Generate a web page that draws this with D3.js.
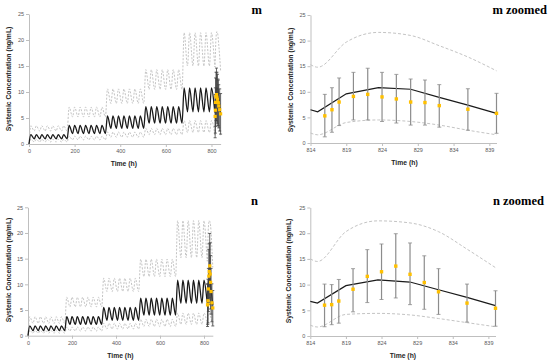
<!DOCTYPE html>
<html>
<head>
<meta charset="utf-8">
<script src="https://cdn.jsdelivr.net/npm/d3@7"></script>
<style>
  body { margin: 0; background: #fff; }
  svg { display: block; }
  text { font-family: "Liberation Sans", Arial, sans-serif; }
</style>
</head>
<body>
<div id="chart"></div>
<script>
// weekly dosing blocks (start hour of each week)
var weekStart = [0, 168, 336, 504, 672];

// panel m: daily peak / trough per week (median, upper and lower percentile)
var mMedPeak = [1.8, 3.6, 5.4, 7.2, 10.8];
var mMedTrough = [1.0, 2.0, 3.0, 4.0, 6.2];
var mHiPeak = [3.5, 7.1, 10.6, 14.3, 21.4];
var mHiTrough = [2.5, 5.2, 7.8, 10.5, 15.0];
var mLoPeak = [0.9, 1.5, 2.3, 3.0, 4.5];
var mLoTrough = [0.4, 0.8, 1.3, 1.8, 2.2];

// panel n
var nMedPeak = [1.9, 3.7, 5.5, 7.3, 10.8];
var nMedTrough = [1.0, 2.2, 3.0, 4.0, 6.3];
var nHiPeak = [3.7, 7.5, 11.2, 14.9, 22.4];
var nHiTrough = [2.4, 5.6, 8.6, 11.5, 15.2];
var nLoPeak = [1.0, 1.7, 2.4, 3.2, 4.4];
var nLoTrough = [0.5, 0.9, 1.3, 1.8, 2.2];

// last dosing interval (zoomed), simulated
var zoomTime = [814, 815, 819, 823.5, 828, 832, 836, 840];
var mZoomMed = [6.5, 6.1, 9.6, 10.8, 10.5, 8.9, 7.4, 5.8];
var mZoomHi = [15.3, 14.8, 19.7, 21.6, 21.0, 19.0, 16.8, 14.1];
var mZoomLo = [1.95, 1.6, 4.0, 4.5, 4.2, 3.5, 2.5, 1.6];
var nZoomMed = [6.75, 6.4, 9.8, 10.9, 10.5, 9.0, 7.5, 5.9];
var nZoomHi = [15.0, 14.5, 20.3, 22.4, 22.0, 20.3, 16.9, 13.3];
var nZoomLo = [2.1, 1.75, 4.2, 4.4, 4.1, 3.4, 2.6, 1.8];

// observed mean +/- SD
var obsTime = [816, 817, 818, 820, 822, 824, 826, 828, 830, 832, 836, 840];
var mObs = [5.3, 6.5, 8.0, 9.1, 9.5, 9.0, 8.6, 8.0, 7.9, 7.3, 6.6, 5.8];
var mObsHi = [9.5, 10.8, 12.7, 13.8, 14.6, 13.8, 13.4, 12.5, 12.3, 11.4, 10.6, 9.7];
var mObsLo = [1.2, 2.1, 3.4, 4.5, 4.5, 4.2, 3.9, 3.5, 3.5, 3.1, 2.5, 1.9];
var nObs = [6.0, 6.1, 6.8, 9.1, 11.6, 12.5, 13.6, 12.0, 10.4, 8.6, 6.4, 5.4];
var nObsHi = [10.1, 10.0, 11.0, 13.1, 16.8, 17.9, 19.9, 18.1, 15.6, 13.1, 10.1, 8.8];
var nObsLo = [1.8, 2.2, 2.5, 4.7, 6.5, 7.1, 7.4, 6.1, 5.2, 4.2, 2.7, 1.9];

var yTicks = [0, 5, 10, 15, 20, 25];
var fullTicks = [0, 200, 400, 600, 800];
var zoomTicks = [814, 819, 824, 829, 834, 839];

var svg = d3.select("#chart").append("svg")
    .attr("width", 550)
    .attr("height", 361);

// build the full course: dose every 24 h, trough just before dose, peak ~8 h after
function fullCourse(peak, trough, zT, zV) {
    var pts = [[0, 0]];
    for (var d = 0; d < 34; d++) {
        if (d > 0) {
            var wt = d3.bisectRight(weekStart, 24 * d - 1) - 1;
            pts.push([24 * d - 1, trough[wt]]);
        }
        var wp = d3.bisectRight(weekStart, 24 * d) - 1;
        pts.push([24 * d + 8, peak[wp]]);
    }
    zT.forEach(function(t, i) { pts.push([t, zV[i]]); });
    return pts;
}

function zipped(t, v) {
    return t.map(function(d, i) { return [d, v[i]]; });
}

function drawPanel(p) {
    var x = d3.scaleLinear().domain(p.xDomain).range(p.xRange);
    var y = d3.scaleLinear().domain([0, 25]).range(p.yRange);
    var g = svg.append("g");

    // axes
    var xAxis = g.append("g")
        .attr("transform", "translate(0," + p.yRange[0] + ")")
        .call(d3.axisBottom(x).tickValues(p.xTicks).tickSize(3).tickSizeOuter(0));
    var yAxis = g.append("g")
        .attr("transform", "translate(" + p.xRange[0] + ",0)")
        .call(d3.axisLeft(y).tickValues(yTicks).tickSize(3).tickSizeOuter(0));
    [xAxis, yAxis].forEach(function(a) {
        a.select(".domain").attr("stroke", "#bfbfbf");
        a.selectAll(".tick line").attr("stroke", "#bfbfbf");
        a.selectAll(".tick text")
            .attr("fill", "#595959")
            .style("font-size", "5.5px")
            .style("font-family", "Liberation Sans, Arial, sans-serif");
    });
    xAxis.selectAll(".tick text").attr("dy", "0.9em").attr("y", 4);
    yAxis.selectAll(".tick text").attr("x", -5);

    var smooth = d3.line()
        .x(function(d) { return x(d[0]); })
        .y(function(d) { return y(d[1]); })
        .curve(d3.curveMonotoneX);
    var straight = d3.line()
        .x(function(d) { return x(d[0]); })
        .y(function(d) { return y(d[1]); });

    // percentile bands (dashed)
    [p.hi, p.lo].forEach(function(s) {
        g.append("path")
            .attr("d", smooth(s))
            .attr("fill", "none")
            .attr("stroke", "#c4c4c4")
            .attr("stroke-width", 1)
            .attr("stroke-dasharray", p.zoom ? "3,2" : "2,1.5");
    });

    // median
    g.append("path")
        .attr("d", p.zoom ? straight(p.med) : smooth(p.med))
        .attr("fill", "none")
        .attr("stroke", "#1a1a1a")
        .attr("stroke-width", p.zoom ? 1.2 : 1.3);

    // observed error bars
    var barColor = p.zoom ? "#8c8c8c" : "#444";
    var cap = p.zoom ? 2 : 1.5;
    var eb = g.selectAll(".eb").data(obsTime).enter().append("g");
    eb.append("line")
        .attr("x1", function(d) { return x(d); })
        .attr("x2", function(d) { return x(d); })
        .attr("y1", function(d, i) { return y(p.obsHi[i]); })
        .attr("y2", function(d, i) { return y(p.obsLo[i]); })
        .attr("stroke", barColor).attr("stroke-width", p.zoom ? 1.2 : 0.8);
    [p.obsHi, p.obsLo].forEach(function(arr) {
        eb.append("line")
            .attr("x1", function(d) { return x(d) - cap; })
            .attr("x2", function(d) { return x(d) + cap; })
            .attr("y1", function(d, i) { return y(arr[i]); })
            .attr("y2", function(d, i) { return y(arr[i]); })
            .attr("stroke", barColor).attr("stroke-width", 0.8);
    });

    // observed means
    var sz = p.zoom ? 3.4 : 3.2;
    g.selectAll(".pt").data(obsTime).enter().append("rect")
        .attr("x", function(d) { return x(d) - sz / 2; })
        .attr("y", function(d, i) { return y(p.obs[i]) - sz / 2; })
        .attr("width", sz).attr("height", sz)
        .attr("fill", "#ffc000");

    // axis titles
    g.append("text")
        .attr("x", d3.mean(p.xRange) + p.tOff)
        .attr("y", p.yRange[0] + 22)
        .attr("text-anchor", "middle")
        .style("font-size", "6.8px").style("font-weight", "bold")
        .attr("fill", "#262626")
        .text("Time (h)");
    g.append("text")
        .attr("transform", "translate(" + p.yTitleX + "," + p.yTitleY + ") rotate(-90)")
        .attr("text-anchor", "middle")
        .style("font-size", "6.8px").style("font-weight", "bold")
        .attr("fill", "#262626")
        .text("Systemic Concentration (ng/mL)");

    // panel label
    g.append("text")
        .attr("x", p.labelX).attr("y", p.labelY)
        .attr("text-anchor", "end")
        .style("font-family", "Liberation Serif, DejaVu Serif, serif")
        .style("font-size", "12.5px").style("font-weight", "bold")
        .attr("fill", "#000")
        .text(p.label);
}

drawPanel({
    xDomain: [0, 840], xRange: [29, 220.6], yRange: [144, 14], xTicks: fullTicks, zoom: false,
    med: fullCourse(mMedPeak, mMedTrough, zoomTime, mZoomMed),
    hi: fullCourse(mHiPeak, mHiTrough, zoomTime, mZoomHi),
    lo: fullCourse(mLoPeak, mLoTrough, zoomTime, mZoomLo),
    obs: mObs, obsHi: mObsHi, obsLo: mObsLo,
    tOff: -1, yTitleX: 11, yTitleY: 79, label: "m", labelX: 262, labelY: 14
});
drawPanel({
    xDomain: [814, 840], xRange: [310.5, 496.5], yRange: [143, 15], xTicks: zoomTicks, zoom: true,
    med: zipped(zoomTime, mZoomMed), hi: zipped(zoomTime, mZoomHi), lo: zipped(zoomTime, mZoomLo),
    obs: mObs, obsHi: mObsHi, obsLo: mObsLo,
    tOff: 1, yTitleX: 293, yTitleY: 80, label: "m zoomed", labelX: 547, labelY: 14
});
drawPanel({
    xDomain: [0, 840], xRange: [28, 212.8], yRange: [335.7, 207.3], xTicks: fullTicks, zoom: false,
    med: fullCourse(nMedPeak, nMedTrough, zoomTime, nZoomMed),
    hi: fullCourse(nHiPeak, nHiTrough, zoomTime, nZoomHi),
    lo: fullCourse(nLoPeak, nLoTrough, zoomTime, nZoomLo),
    obs: nObs, obsHi: nObsHi, obsLo: nObsLo,
    tOff: 0, yTitleX: 11, yTitleY: 270, label: "n", labelX: 258, labelY: 205
});
drawPanel({
    xDomain: [814, 840], xRange: [310.3, 495.5], yRange: [336, 207.5], xTicks: zoomTicks, zoom: true,
    med: zipped(zoomTime, nZoomMed), hi: zipped(zoomTime, nZoomHi), lo: zipped(zoomTime, nZoomLo),
    obs: nObs, obsHi: nObsHi, obsLo: nObsLo,
    tOff: 0, yTitleX: 291, yTitleY: 271, label: "n zoomed", labelX: 544, labelY: 205
});
</script>
</body>
</html>
